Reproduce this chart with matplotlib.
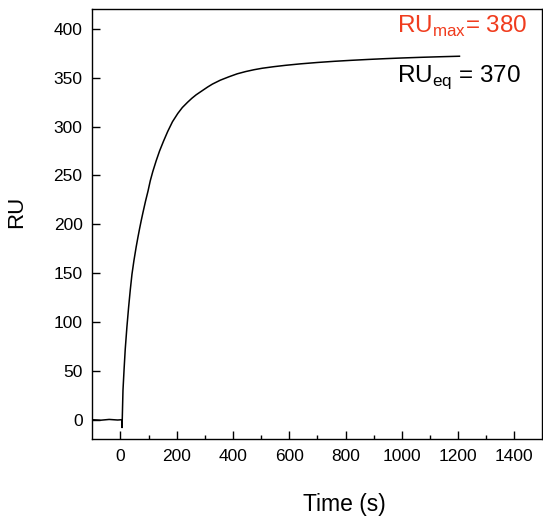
import numpy as np
import matplotlib
matplotlib.use('Agg')
import matplotlib.pyplot as plt

plt.rcParams['font.family'] = ['Liberation Sans', 'DejaVu Sans']
plt.rcParams['mathtext.fontset'] = 'custom'
plt.rcParams['mathtext.rm'] = 'Liberation Sans'

# sensorgram: time (s), response (RU)
time = [-100, -70, -40, -10, 5, 5.7, 9, 13, 17, 23, 29, 35, 41, 48, 56, 62,
        68, 74, 80, 89, 98, 106, 115, 127, 139, 153, 168, 185, 204, 220,
        239, 254, 269, 292, 310, 327, 355, 386, 415, 445, 475, 504, 545,
        587, 640, 700, 760, 820, 880, 940, 1000, 1070, 1140, 1205]
ru = [0, -0.5, 0.3, -0.3, 0, -8, 30, 52, 72, 95, 115, 133, 149, 163, 177,
      186.5, 195.5, 204, 212, 223.5, 234, 244.5, 254, 265, 275, 285, 295,
      305, 313.5, 319.5, 325, 329, 332.5, 337, 340.5, 343.5, 347.5, 351,
      354, 356.3, 358.2, 359.7, 361.3, 362.7, 364.2, 365.6, 366.8, 367.8,
      368.7, 369.5, 370.2, 370.9, 371.5, 372]

ru_max = 380
ru_eq = 370

fig = plt.figure(figsize=(5.43, 5.18), dpi=100)
ax = fig.add_axes([0.170, 0.152, 0.829, 0.830])

ax.plot(time, ru, color='black', lw=1.1)

ax.set_xlim(-100, 1500)
ax.set_ylim(-20, 420)
ax.set_xticks(np.arange(0, 1401, 200))
ax.set_xticks(np.arange(100, 1500, 200), minor=True)
ax.set_yticks(np.arange(0, 401, 50))
ax.tick_params(direction='in', labelsize=12.5, length=5.5, width=1, pad=7)
ax.tick_params(which='minor', direction='in', length=3, width=1)
for s in ax.spines.values():
    s.set_linewidth(1)

ax.set_xlabel('Time (s)', fontsize=16.5)
ax.set_ylabel('RU', fontsize=16)
ax.xaxis.set_label_coords(0.56, -0.125)
ax.yaxis.set_label_coords(-0.145, 0.53)

ax.text(984, 396, r'RU$_{\mathrm{max}}$= %d' % ru_max, color='#f03c1e',
        fontsize=17.5, va='baseline')
ax.text(984, 346, r'RU$_{\mathrm{eq}}$ = %d' % ru_eq, color='black',
        fontsize=17.5, va='baseline')

plt.savefig('out.png', dpi=100)
